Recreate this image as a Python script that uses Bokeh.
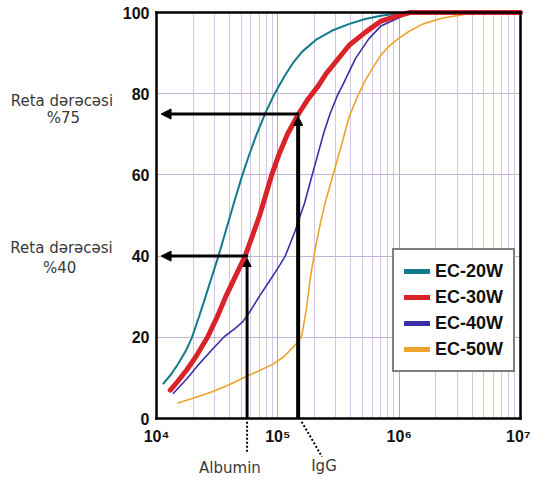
from bokeh.plotting import figure
from bokeh.models import (Range1d, FixedTicker, Legend, LegendItem, Arrow,
                          NormalHead, LogAxis, LinearAxis, Grid)
from bokeh.core.properties import value
from bokeh.embed import file_html
from bokeh.resources import INLINE

# ---------------- data ----------------
x_ticks = [1e4, 1e5, 1e6, 1e7]
x_tick_labels = ["10⁴", "10⁵", "10⁶", "10⁷"]
x_minor_ticks = [k * d for d in (1e4, 1e5, 1e6) for k in range(2, 10)]
y_ticks = [0, 20, 40, 60, 80, 100]
y_grid = [20, 40, 60, 80]

series_names = ["EC-20W", "EC-30W", "EC-40W", "EC-50W"]
series_colors = ["#127a8c", "#d8232a", "#3b2ea8", "#eda22b"]
series_widths = [2.0, 5.0, 1.6, 1.6]

ec20_mw = [1.14e4, 1.32e4, 1.51e4, 1.74e4, 1.95e4, 2.21e4, 2.51e4, 2.85e4,
           3.24e4, 3.59e4, 3.98e4, 4.47e4, 5.01e4, 5.75e4, 6.61e4, 7.94e4,
           9.33e4, 1.15e5, 1.35e5, 1.58e5, 2.09e5, 2.88e5, 3.89e5, 5.25e5,
           7.08e5, 1.0e6, 1.0e7]
ec20_pct = [8.6, 10.9, 13.5, 16.6, 19.8, 24.5, 29.6, 34.8, 40, 44.6, 49.2,
            54.3, 59.2, 64.6, 69.6, 75.4, 79.8, 84.6, 87.8, 90.3, 93.4, 95.7,
            97.2, 98.4, 99.2, 99.8, 100]

ec30_mw = [1.30e4, 1.51e4, 1.78e4, 2.14e4, 2.63e4, 3.16e4, 3.72e4, 4.47e4,
           5.37e4, 6.17e4, 7.08e4, 7.94e4, 8.91e4, 1.02e5, 1.20e5, 1.48e5,
           1.78e5, 2.14e5, 2.51e5, 2.88e5, 3.89e5, 5.25e5, 7.08e5, 9.77e5,
           1.23e6, 1.0e7]
ec30_pct = [7, 9.3, 12, 15.5, 20, 25, 30, 35, 40, 45, 50, 55, 60, 65, 70, 75,
            78.7, 81.8, 85, 87.2, 92, 95.1, 97.9, 99.2, 100, 100]

ec40_mw = [1.38e4, 1.78e4, 2.24e4, 2.88e4, 3.63e4, 4.37e4, 5.13e4, 6.03e4,
           7.08e4, 8.51e4, 1.02e5, 1.15e5, 1.26e5, 1.38e5, 1.51e5, 1.66e5,
           1.86e5, 2.09e5, 2.40e5, 2.69e5, 3.09e5, 3.47e5, 4.37e5, 5.62e5,
           7.08e5, 9.77e5, 1.23e6, 1.0e7]
ec40_pct = [6.2, 9.8, 13.4, 17, 20.2, 22, 23.8, 26.8, 30.2, 33.8, 37.4, 40,
            43, 46, 49.5, 53, 58.5, 64, 70.5, 75, 79.5, 82.5, 88.7, 93.5, 96.7,
            98.6, 100, 100]

ec50_mw = [1.51e4, 2.09e4, 2.88e4, 3.98e4, 5.37e4, 7.08e4, 9.12e4, 1.12e5,
           1.32e5, 1.48e5, 1.58e5, 1.72e5, 1.86e5, 2.04e5, 2.24e5, 2.45e5,
           2.88e5, 3.39e5, 3.89e5, 4.57e5, 5.25e5, 6.17e5, 7.08e5, 8.32e5,
           9.77e5, 1.23e6, 1.58e6, 2.24e6, 3.55e6, 1.0e7]
ec50_pct = [3.8, 5.2, 6.6, 8.3, 10.2, 11.8, 13.4, 15.2, 17.4, 19, 20.6, 27,
            35, 42, 48, 53, 60.5, 68, 74.5, 79.5, 83.2, 86.8, 89.5, 91.8,
            93.5, 95.5, 97.2, 98.6, 99.6, 100]

albumin_mw = 5.58e4
igg_mw = 1.47e5
albumin_pct = 40
igg_pct = 75
arrow_tip_mw = 1.09e4

marker_labels = ["Albumin", "IgG"]
side_labels = ["Reta dərəcəsi", "%75", "Reta dərəcəsi", "%40"]

# ---------------- layout (pixels -> ranges) ----------------
W, H = 530, 477
PX_LEFT, PX_RIGHT = 156, 520          # where 1e4 and 1e7 sit
PX_TOP, PX_BOTTOM = 12, 418           # where 100 and 0 sit
DEC = (PX_RIGHT - PX_LEFT) / 3.0
PXU = (PX_BOTTOM - PX_TOP) / 100.0
x0 = 10 ** (4 - PX_LEFT / DEC)
x1 = 10 ** (7 + (W - PX_RIGHT) / DEC)
y0 = -(H - PX_BOTTOM) / PXU
y1 = 100 + PX_TOP / PXU

p = figure(width=W, height=H, x_axis_type="log",
           x_range=Range1d(x0, x1), y_range=Range1d(y0, y1),
           output_backend="svg", toolbar_location=None, min_border=0)
p.background_fill_color = "white"
p.border_fill_color = "white"
p.outline_line_color = None

xa = p.below[0]
ya = p.left[0]
xa.fixed_location = 0
ya.fixed_location = 1e4
xa.bounds = (1e4, 1e7)
ya.bounds = (0, 100)
xt = FixedTicker(ticks=x_ticks, minor_ticks=x_minor_ticks)
xa.ticker = xt
ya.ticker = FixedTicker(ticks=y_ticks)
xa.major_label_overrides = {t: s for t, s in zip(x_ticks, x_tick_labels)}
for ax in (xa, ya):
    ax.axis_line_color = "black"
    ax.axis_line_width = 2.5
    ax.axis_line_cap = "square"
    ax.major_tick_line_color = None
    ax.minor_tick_line_color = None
    ax.major_tick_out = 0
    ax.major_tick_in = 0
    ax.minor_tick_out = 0
    ax.minor_tick_in = 0
    ax.major_label_text_font = "Liberation Sans"
    ax.major_label_text_font_style = "bold"
    ax.major_label_text_font_size = "16px"
    ax.major_label_text_color = "#111111"
ya.major_label_standoff = 7
xa.major_label_standoff = 9

# closing lines of the frame (top and right), as plain axes
top_ax = LogAxis(fixed_location=100, bounds=(1e4, 1e7), ticker=FixedTicker(ticks=[]),
                 axis_line_color="black", axis_line_width=2.5, axis_line_cap="square",
                 major_tick_line_color=None, minor_tick_line_color=None)
right_ax = LinearAxis(fixed_location=1e7, bounds=(0, 100), ticker=FixedTicker(ticks=[]),
                      axis_line_color="black", axis_line_width=2.5, axis_line_cap="square",
                      major_tick_line_color=None, minor_tick_line_color=None)
p.add_layout(top_ax, "above")
p.add_layout(right_ax, "right")

# grids
xg = p.xgrid[0]
yg = p.ygrid[0]
xg.ticker = xt
yg.ticker = FixedTicker(ticks=y_grid)
XG_MAJOR, XG_MINOR, YG = "#b4a4c6", "#d6c6e2", "#c2b4d2"
if "cross_bounds" in Grid.properties():
    xg.grid_line_color = XG_MAJOR
    xg.minor_grid_line_color = XG_MINOR
    yg.grid_line_color = YG
    xg.cross_bounds = (0, 100)
    yg.cross_bounds = (1e4, 1e7)
    yg.bounds = (0, 100)
else:
    xg.visible = False
    yg.visible = False
    p.segment(x0=x_minor_ticks, y0=[0] * len(x_minor_ticks), x1=x_minor_ticks,
              y1=[100] * len(x_minor_ticks), line_color=XG_MINOR, line_width=1)
    gx = x_ticks[1:-1]
    p.segment(x0=gx, y0=[0] * len(gx), x1=gx, y1=[100] * len(gx),
              line_color=XG_MAJOR, line_width=1)
    p.segment(x0=[1e4] * len(y_grid), y0=y_grid, x1=[1e7] * len(y_grid), y1=y_grid,
              line_color=YG, line_width=1)

# ---------------- curves ----------------
series_x = [ec20_mw, ec30_mw, ec40_mw, ec50_mw]
series_y = [ec20_pct, ec30_pct, ec40_pct, ec50_pct]
for i in [3, 2, 0, 1]:
    p.line(series_x[i], series_y[i], line_color=series_colors[i],
           line_width=series_widths[i], line_join="round", line_cap="round")

# legend with thick sample lines (dummy renderers placed off-canvas)
items = []
for i, name in enumerate(series_names):
    r = p.line([100, 200], [-300, -300], line_color=series_colors[i],
               line_width=5, line_cap="round")
    items.append(LegendItem(label=name, renderers=[r]))
legend = Legend(items=items, location=(392, 105), margin=0,
                padding=10, spacing=4, glyph_width=26, glyph_height=22,
                label_height=22, label_standoff=5,
                label_text_font="Liberation Sans", label_text_font_style="bold",
                label_text_font_size="18px", label_text_color="#111111",
                border_line_color="black", border_line_width=2,
                background_fill_color="white", background_fill_alpha=1.0)
p.add_layout(legend)

# ---------------- arrows ----------------
head = dict(fill_color="black", line_color="black")
p.add_layout(Arrow(x_start=igg_mw, y_start=0, x_end=igg_mw, y_end=igg_pct - 0.6,
                   end=NormalHead(size=9, **head), line_color="black", line_width=4))
p.add_layout(Arrow(x_start=igg_mw * 1.02, y_start=igg_pct, x_end=arrow_tip_mw, y_end=igg_pct,
                   end=NormalHead(size=10, **head), line_color="black", line_width=3))
p.add_layout(Arrow(x_start=albumin_mw, y_start=0, x_end=albumin_mw, y_end=albumin_pct - 0.6,
                   end=NormalHead(size=8, **head), line_color="black", line_width=3))
p.add_layout(Arrow(x_start=albumin_mw * 1.02, y_start=albumin_pct, x_end=arrow_tip_mw,
                   y_end=albumin_pct,
                   end=NormalHead(size=10, **head), line_color="black", line_width=3))

# dotted leaders below the axis
p.segment(x0=[albumin_mw, igg_mw * 1.07], y0=[-0.8, -0.8],
          x1=[albumin_mw, 2.31e5], y1=[-8.2, -9.4],
          line_color="black", line_width=2, line_dash="2 2")

# ---------------- texts ----------------
txt_style = dict(text_font=value("DejaVu Sans"), text_font_size=value("15px"),
                 text_color="#3a3a3a", text_align="center", text_baseline="middle")
p.text(x=[1660, 1710, 1650, 1590], y=[78.2, 73.9, 41.9, 37.1],
       text=side_labels, **txt_style)
p.text(x=[4.03e4, 2.4e5], y=[-12.3, -11.8], text=marker_labels, **txt_style)

open("out.html", "w").write(file_html(p, INLINE))
